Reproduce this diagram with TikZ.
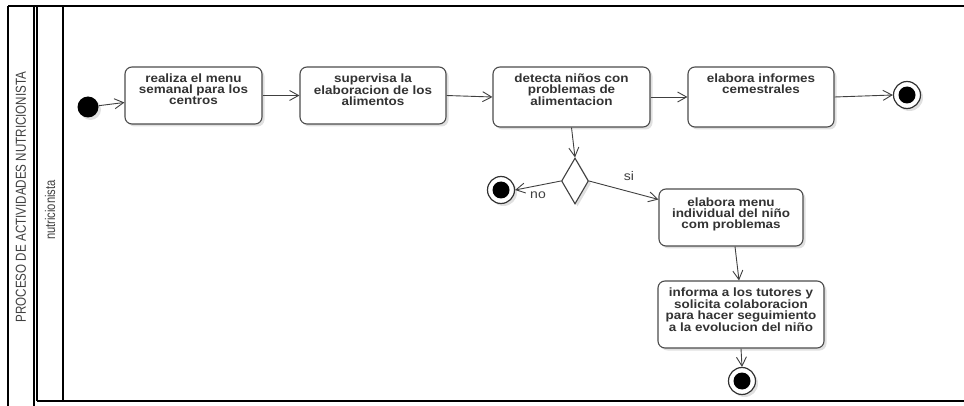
\documentclass[tikz,border=0pt]{standalone}
\usepackage{fontspec}
\setmainfont{Liberation Sans}
\newfontfamily\narrowfont[FakeStretch=0.8]{Liberation Sans}
\newfontfamily\boxfont[FakeStretch=1.12]{Liberation Sans}
\usetikzlibrary{arrows.meta,shapes.geometric,shadows}
\tikzset{
  frameline/.style={draw=black, line width=1.6pt},
  shadowed/.style={drop shadow={shadow xshift=2.5pt, shadow yshift=-2.5pt, opacity=0.12, fill=black}},
  act/.style={draw=black!70, line width=1.1pt, rounded corners=7pt, fill=white, shadowed, inner sep=0pt},
  acttext/.style={font=\boxfont\fontsize{12}{10.9}\selectfont\bfseries, text=black!80, align=center, anchor=north, inner sep=0pt},
  arr/.style={draw=black!75, line width=0.9pt, -{Straight Barb[length=9pt,width=10pt,line width=0.9pt]}},
  initnode/.style={circle, fill=black, minimum size=21pt, inner sep=0pt, shadowed},
  finalnode/.style={circle, draw=black!80, line width=1.2pt, fill=white, minimum size=27pt, inner sep=0pt, shadowed,
    path picture={\fill[black] (path picture bounding box.center) circle (8.5pt);}},
  decision/.style={diamond, draw=black!75, line width=1.1pt, fill=white, minimum width=27pt, minimum height=46pt, inner sep=0pt, shadowed},
  guard/.style={font=\boxfont\fontsize{12.5}{13}\selectfont, text=black!75, inner sep=0pt},
  lanetext/.style={text=black!75, rotate=90, inner sep=0pt}
}
\begin{document}
\begin{tikzpicture}[x=1pt,y=-1pt]
\useasboundingbox (0,0) rectangle (964,406);
\fill[white] (0,0) rectangle (964,406);
% frame
\draw[frameline] (8,6) -- (964,6);
\draw[frameline] (8,6) -- (8,406);
\draw[frameline] (34,6) -- (34,406);
\draw[frameline] (37,6) -- (37,401);
\draw[frameline] (63,6) -- (63,401);
\draw[frameline] (37,401) -- (964,401);
\node[lanetext, font=\narrowfont\fontsize{14.5}{14.5}\selectfont] (title) at (21,197) {PROCESO DE ACTIVIDADES NUTRICIONISTA};
\node[lanetext, font=\narrowfont\fontsize{14}{14}\selectfont] (lane) at (50,210) {nutricionista};
% nodes
\node[initnode] (init) at (88,107) {};
\node[act, minimum width=137pt, minimum height=57pt] (b1) at (193.5,95.5) {};
\node[act, minimum width=146pt, minimum height=57pt] (b2) at (373,95.5) {};
\node[act, minimum width=157pt, minimum height=60pt] (b3) at (571.5,97) {};
\node[act, minimum width=146pt, minimum height=60pt] (b4) at (761,97) {};
\node[finalnode] (f1) at (907,95) {};
\node[decision] (dia) at (575,181) {};
\node[finalnode] (f2) at (501,190) {};
\node[act, minimum width=144pt, minimum height=57pt] (b5) at (731,217.5) {};
\node[act, minimum width=166pt, minimum height=67pt] (b6) at (741,314.5) {};
\node[finalnode] (f3) at (742,381) {};
% texts
\node[acttext] (t1) at ([yshift=-7pt]b1.north) {realiza el menu\\semanal para los\\centros};
\node[acttext] (t2) at ([yshift=-7pt]b2.north) {supervisa la\\elaboracion de los\\alimentos};
\node[acttext] (t3) at ([yshift=-7pt]b3.north) {detecta niños con\\problemas de\\alimentacion};
\node[acttext] (t4) at ([yshift=-7pt]b4.north) {elabora informes\\cemestrales};
\node[acttext] (t5) at ([yshift=-9pt]b5.north) {elabora menu\\individual del niño\\com problemas};
\node[acttext] (t6) at ([yshift=-7pt]b6.north) {informa a los tutores y\\solicita colaboracion\\para hacer seguimiento\\a la evolucion del niño};
\node[guard] (no) at (538,195) {no};
\node[guard] (si) at (629,176) {si};
% connectors
\draw[arr] (init) -- ([yshift=-7pt]b1.west);
\draw[arr] (b1.east) -- (b2.west);
\draw[arr] (b2.east) -- (b3.west);
\draw[arr] (b3.east) -- (b4.west);
\draw[arr] (b4.east) -- (f1.west);
\draw[arr] (b3.south) -- (dia.north);
\draw[arr] (dia.west) -- (f2.east);
\draw[arr] (dia.east) -- ([yshift=-11pt]b5.north west);
\draw[arr] ([xshift=4pt]b5.south) -- ([xshift=-2pt]b6.north);
\draw[arr] (b6.south) -- (f3.north);
\end{tikzpicture}
\end{document}
